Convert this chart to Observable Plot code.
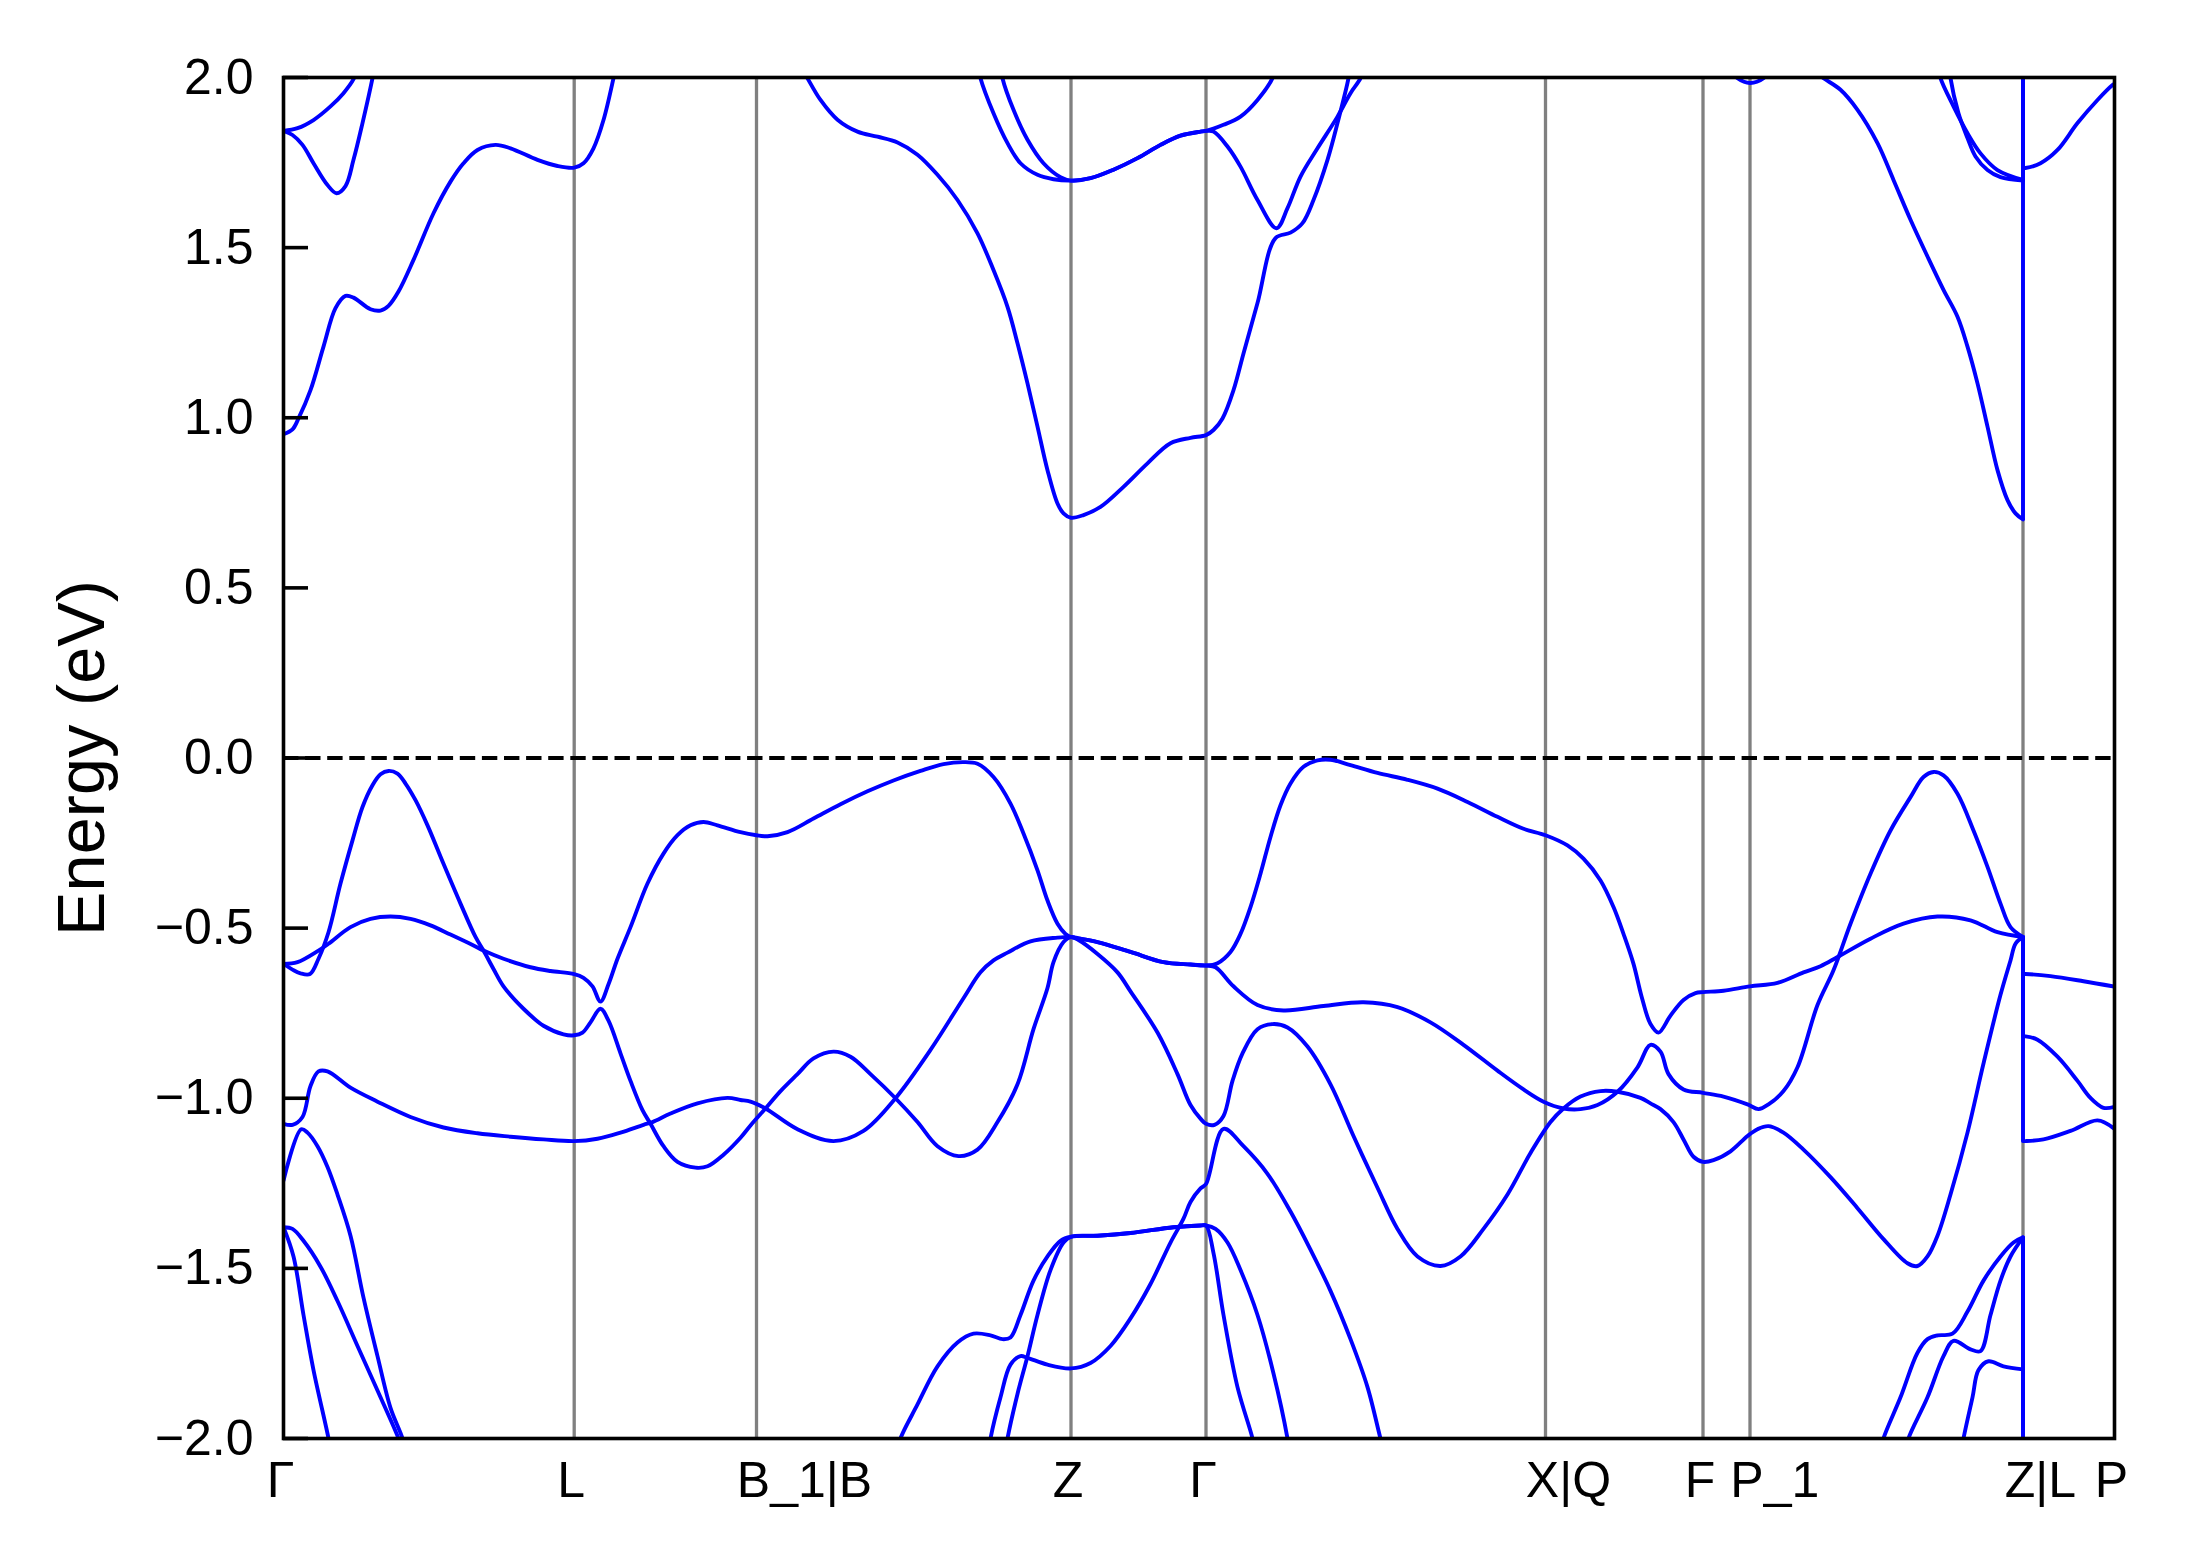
<!DOCTYPE html>
<html>
<head>
<meta charset="utf-8">
<style>
  html, body { margin: 0; padding: 0; background: #ffffff; }
  #chart svg { display: block; }
</style>
<script src="https://cdn.jsdelivr.net/npm/d3@7"></script>
<script src="https://cdn.jsdelivr.net/npm/@observablehq/plot@0.6"></script>
</head>
<body>
<div id="chart"></div>
<script>
// ---- High-symmetry path (k-path distance, arbitrary units) ----
const kLabels = ["Γ", "L", "B_1|B", "Z", "Γ", "X|Q", "F", "P_1", "Z|L", "P"];
const kTicks  = [0, 2.907, 4.73, 7.875, 9.225, 12.62, 14.195, 14.665, 17.395, 18.31];
const yTicks  = [-2, -1.5, -1, -0.5, 0, 0.5, 1, 1.5, 2];
const fermiLevel = [0];

// ---- Bands: [k, E (eV)]; repeated k = jump at a path discontinuity ----
const condLowA = [[0,0.952],[0.09,0.966],[0.15,0.998],[0.27,1.081],[0.40,1.209],[0.52,1.322],[0.62,1.358],[0.70,1.353],[0.87,1.319],[0.97,1.315],[1.05,1.329],[1.15,1.371],[1.30,1.464],[1.50,1.601],[1.67,1.694],[1.80,1.748],[1.94,1.787],[2.12,1.802],[2.27,1.792],[2.54,1.758],[2.74,1.740],[2.907,1.735],[3.00,1.748],[3.10,1.792],[3.20,1.875],[3.30,1.998],[3.33,2.04]];
const condLowB = [[5.18,2.03],[5.24,1.998],[5.37,1.934],[5.54,1.876],[5.74,1.841],[5.94,1.826],[6.14,1.809],[6.34,1.773],[6.54,1.714],[6.74,1.640],[6.94,1.542],[7.10,1.434],[7.24,1.326],[7.34,1.219],[7.44,1.101],[7.54,0.974],[7.64,0.846],[7.74,0.748],[7.80,0.719],[7.875,0.706],[8.00,0.714],[8.17,0.738],[8.40,0.797],[8.64,0.866],[8.87,0.925],[9.07,0.941],[9.225,0.949],[9.30,0.964],[9.39,0.998],[9.50,1.081],[9.60,1.189],[9.74,1.337],[9.92,1.528],[10.07,1.544],[10.19,1.572],[10.30,1.640],[10.44,1.758],[10.54,1.866],[10.65,1.998],[10.67,2.04]];
const condLowC = [[15.30,2.02],[15.40,1.998],[15.57,1.964],[15.74,1.905],[15.94,1.807],[16.10,1.699],[16.27,1.582],[16.44,1.474],[16.60,1.376],[16.74,1.297],[16.84,1.209],[16.94,1.101],[17.04,0.974],[17.14,0.846],[17.24,0.758],[17.32,0.719],[17.395,0.701],[17.395,1.734],[17.42,1.734],[17.57,1.748],[17.74,1.787],[17.94,1.866],[18.14,1.934],[18.29,1.978],[18.31,1.982]];
const condGammaUp = [[0,1.843],[0.14,1.851],[0.30,1.875],[0.47,1.915],[0.60,1.954],[0.70,1.995],[0.73,2.02]];
const condGammaDip = [[0,1.843],[0.09,1.831],[0.19,1.802],[0.30,1.748],[0.44,1.684],[0.53,1.660],[0.62,1.681],[0.70,1.758],[0.79,1.866],[0.89,1.998],[0.91,2.03]];
const condZOuter = [[6.95,2.03],[6.97,1.998],[7.10,1.895],[7.24,1.807],[7.37,1.748],[7.54,1.714],[7.70,1.701],[7.875,1.697],[8.07,1.704],[8.30,1.729],[8.54,1.763],[8.77,1.802],[8.97,1.829],[9.17,1.841],[9.225,1.843],[9.30,1.841],[9.44,1.797],[9.57,1.738],[9.74,1.640],[9.93,1.557],[10.04,1.616],[10.17,1.709],[10.34,1.792],[10.54,1.885],[10.67,1.954],[10.77,1.998],[10.80,2.03]];
const condZInner = [[7.17,2.04],[7.19,1.998],[7.30,1.905],[7.44,1.817],[7.60,1.748],[7.77,1.707],[7.875,1.697],[8.07,1.704],[8.30,1.729],[8.54,1.763],[8.77,1.802],[8.97,1.829],[9.17,1.841],[9.225,1.843],[9.40,1.861],[9.57,1.885],[9.74,1.934],[9.89,1.998],[9.92,2.03]];
const condP1Blip = [[14.45,2.03],[14.54,1.998],[14.665,1.984],[14.80,1.998],[14.88,2.03]];
const condZL1 = [[16.55,2.03],[16.57,1.998],[16.70,1.915],[16.84,1.836],[16.97,1.777],[17.14,1.728],[17.395,1.699],[17.395,2.05]];
const condZL2 = [[16.66,2.03],[16.67,1.998],[16.75,1.895],[16.84,1.822],[16.92,1.768],[17.04,1.728],[17.17,1.707],[17.395,1.697],[17.395,2.05]];

const valA = [[0,-0.605],[0.09,-0.622],[0.17,-0.633],[0.265,-0.635],[0.35,-0.59],[0.45,-0.512],[0.57,-0.369],[0.69,-0.242],[0.79,-0.144],[0.89,-0.080],[0.97,-0.048],[1.05,-0.038],[1.14,-0.046],[1.22,-0.075],[1.32,-0.124],[1.44,-0.198],[1.60,-0.311],[1.77,-0.428],[1.92,-0.526],[2.00,-0.566],[2.10,-0.620],[2.20,-0.671],[2.40,-0.737],[2.60,-0.787],[2.80,-0.812],[2.907,-0.815],[2.99,-0.807],[3.07,-0.777],[3.17,-0.737],[3.25,-0.772],[3.37,-0.868],[3.47,-0.949],[3.59,-1.035],[3.67,-1.075],[3.80,-1.141],[3.94,-1.187],[4.12,-1.204],[4.24,-1.200],[4.40,-1.166],[4.57,-1.116],[4.67,-1.08],[4.82,-1.03],[4.97,-0.979],[5.14,-0.929],[5.30,-0.883],[5.50,-0.863],[5.67,-0.878],[5.87,-0.929],[6.12,-1.0],[6.34,-1.07],[6.54,-1.141],[6.75,-1.17],[6.94,-1.151],[7.14,-1.07],[7.34,-0.959],[7.50,-0.797],[7.64,-0.676],[7.70,-0.60],[7.80,-0.541],[7.875,-0.526],[7.95,-0.535],[8.14,-0.576],[8.34,-0.63],[8.47,-0.686],[8.74,-0.807],[8.94,-0.929],[9.07,-1.02],[9.17,-1.06],[9.225,-1.075],[9.31,-1.078],[9.40,-1.052],[9.49,-0.949],[9.59,-0.868],[9.74,-0.797],[9.89,-0.782],[10.04,-0.792],[10.24,-0.848],[10.47,-0.959],[10.70,-1.111],[10.94,-1.263],[11.14,-1.384],[11.34,-1.465],[11.57,-1.493],[11.77,-1.465],[12.00,-1.384],[12.24,-1.283],[12.47,-1.161],[12.67,-1.07],[12.80,-1.03],[12.97,-0.995],[13.17,-0.979],[13.34,-0.981],[13.57,-0.999],[13.67,-1.015],[13.77,-1.032],[13.90,-1.07],[14.00,-1.121],[14.10,-1.172],[14.195,-1.187],[14.30,-1.182],[14.47,-1.156],[14.64,-1.111],[14.74,-1.091],[14.85,-1.082],[15.00,-1.101],[15.20,-1.151],[15.47,-1.232],[15.74,-1.323],[16.00,-1.414],[16.24,-1.485],[16.34,-1.493],[16.44,-1.465],[16.54,-1.404],[16.67,-1.283],[16.84,-1.101],[17.00,-0.898],[17.17,-0.696],[17.27,-0.595],[17.32,-0.546],[17.395,-0.526],[17.395,-1.126],[17.42,-1.126],[17.60,-1.121],[17.87,-1.096],[18.14,-1.065],[18.31,-1.09]];
const valB = [[0,-0.605],[0.14,-0.600],[0.35,-0.566],[0.45,-0.546],[0.67,-0.497],[0.87,-0.473],[1.07,-0.466],[1.27,-0.473],[1.47,-0.492],[1.67,-0.519],[1.90,-0.551],[2.00,-0.566],[2.20,-0.590],[2.47,-0.615],[2.67,-0.626],[2.907,-0.635],[3.00,-0.646],[3.09,-0.671],[3.17,-0.716],[3.25,-0.665],[3.34,-0.59],[3.47,-0.497],[3.64,-0.369],[3.80,-0.281],[3.94,-0.227],[4.07,-0.198],[4.20,-0.188],[4.34,-0.198],[4.57,-0.218],[4.73,-0.227],[4.84,-0.230],[5.04,-0.218],[5.30,-0.178],[5.57,-0.136],[5.84,-0.098],[6.10,-0.066],[6.37,-0.038],[6.60,-0.018],[6.80,-0.012],[6.94,-0.017],[7.10,-0.056],[7.27,-0.134],[7.40,-0.222],[7.54,-0.330],[7.64,-0.419],[7.74,-0.487],[7.82,-0.517],[7.875,-0.526],[7.95,-0.530],[8.14,-0.541],[8.47,-0.570],[8.80,-0.600],[9.07,-0.607],[9.225,-0.610],[9.34,-0.603],[9.47,-0.570],[9.57,-0.517],[9.67,-0.438],[9.77,-0.340],[9.87,-0.232],[9.97,-0.139],[10.07,-0.075],[10.20,-0.026],[10.34,-0.007],[10.47,-0.005],[10.67,-0.021],[10.94,-0.044],[11.24,-0.064],[11.54,-0.090],[11.84,-0.129],[12.14,-0.173],[12.40,-0.208],[12.62,-0.227],[12.84,-0.257],[13.00,-0.296],[13.17,-0.360],[13.30,-0.438],[13.40,-0.517],[13.50,-0.605],[13.58,-0.70],[13.67,-0.782],[13.75,-0.807],[13.87,-0.757],[14.00,-0.711],[14.12,-0.691],[14.195,-0.688],[14.40,-0.684],[14.665,-0.671],[14.94,-0.661],[15.20,-0.630],[15.37,-0.612],[15.54,-0.585],[15.87,-0.531],[16.20,-0.487],[16.54,-0.466],[16.87,-0.477],[17.14,-0.512],[17.395,-0.526],[17.395,-0.818],[17.42,-0.818],[17.54,-0.828],[17.74,-0.878],[17.94,-0.949],[18.07,-0.999],[18.20,-1.028],[18.31,-1.025]];
const valC = [[0,-1.075],[0.09,-1.078],[0.19,-1.055],[0.27,-0.964],[0.35,-0.921],[0.44,-0.921],[0.67,-0.969],[0.94,-1.01],[1.27,-1.055],[1.60,-1.086],[1.94,-1.103],[2.27,-1.113],[2.60,-1.121],[2.907,-1.126],[3.14,-1.119],[3.37,-1.101],[3.60,-1.078],[3.69,-1.070],[3.87,-1.045],[4.14,-1.015],[4.44,-0.999],[4.57,-1.005],[4.67,-1.01],[4.82,-1.03],[5.14,-1.091],[5.50,-1.126],[5.80,-1.096],[6.12,-1.0],[6.47,-0.858],[6.80,-0.706],[6.97,-0.63],[7.10,-0.595],[7.24,-0.572],[7.47,-0.539],[7.74,-0.528],[7.875,-0.526],[7.95,-0.530],[8.14,-0.541],[8.47,-0.570],[8.80,-0.600],[9.07,-0.607],[9.225,-0.610],[9.32,-0.615],[9.50,-0.671],[9.74,-0.726],[10.00,-0.742],[10.40,-0.729],[10.80,-0.718],[11.14,-0.732],[11.47,-0.777],[11.80,-0.843],[12.14,-0.919],[12.40,-0.974],[12.60,-1.01],[12.80,-1.03],[12.97,-1.032],[13.14,-1.02],[13.34,-0.981],[13.54,-0.909],[13.67,-0.843],[13.77,-0.863],[13.85,-0.929],[14.00,-0.974],[14.195,-0.984],[14.40,-0.995],[14.64,-1.018],[14.75,-1.032],[14.85,-1.018],[15.00,-0.979],[15.14,-0.909],[15.34,-0.726],[15.50,-0.624],[15.67,-0.487],[15.87,-0.340],[16.07,-0.213],[16.27,-0.115],[16.40,-0.056],[16.50,-0.041],[16.60,-0.051],[16.74,-0.105],[16.90,-0.213],[17.04,-0.320],[17.17,-0.428],[17.27,-0.497],[17.395,-0.526],[17.395,-0.635],[17.42,-0.635],[17.67,-0.641],[18.00,-0.656],[18.31,-0.672]];
const valD = [[0,-1.242],[0.177,-1.091],[0.24,-1.101],[0.34,-1.141],[0.44,-1.202],[0.54,-1.283],[0.67,-1.404],[0.80,-1.586],[0.94,-1.758],[1.07,-1.91],[1.19,-2.0],[1.21,-2.03]];
const valGamma1 = [[0,-1.379],[0.09,-1.384],[0.20,-1.419],[0.37,-1.495],[0.54,-1.596],[0.74,-1.728],[0.94,-1.859],[1.15,-2.0],[1.17,-2.02]];
const valGamma2 = [[0,-1.379],[0.10,-1.465],[0.20,-1.637],[0.30,-1.799],[0.45,-2.0],[0.46,-2.02]];
const valZ1 = [[6.16,-2.02],[6.17,-2.0],[6.34,-1.9],[6.54,-1.788],[6.74,-1.718],[6.90,-1.692],[7.07,-1.697],[7.19,-1.708],[7.27,-1.703],[7.37,-1.637],[7.50,-1.536],[7.64,-1.465],[7.77,-1.419],[7.875,-1.407],[8.14,-1.404],[8.47,-1.396],[8.90,-1.379],[9.17,-1.374],[9.225,-1.374],[9.32,-1.384],[9.44,-1.424],[9.57,-1.505],[9.74,-1.637],[9.90,-1.809],[10.04,-2.0],[10.05,-2.02]];
const valZ2 = [[7.06,-2.02],[7.07,-2.0],[7.17,-1.879],[7.27,-1.783],[7.37,-1.758],[7.44,-1.763],[7.64,-1.783],[7.875,-1.794],[8.07,-1.778],[8.27,-1.728],[8.47,-1.647],[8.67,-1.546],[8.87,-1.424],[9.00,-1.354],[9.07,-1.305],[9.17,-1.265],[9.225,-1.252],[9.40,-1.09],[9.60,-1.141],[9.84,-1.222],[10.07,-1.333],[10.27,-1.445],[10.47,-1.566],[10.67,-1.708],[10.84,-1.849],[10.97,-2.0],[10.99,-2.02]];
const valZ3 = [[7.23,-2.02],[7.24,-2.0],[7.34,-1.869],[7.44,-1.758],[7.54,-1.637],[7.67,-1.505],[7.80,-1.424],[7.875,-1.407],[8.14,-1.404],[8.47,-1.396],[8.90,-1.379],[9.17,-1.374],[9.225,-1.374],[9.30,-1.455],[9.40,-1.637],[9.54,-1.849],[9.69,-2.0],[9.70,-2.02]];
const valZL1 = [[15.99,-2.02],[16.00,-2.0],[16.17,-1.879],[16.34,-1.748],[16.44,-1.708],[16.54,-1.697],[16.69,-1.692],[16.84,-1.627],[17.00,-1.536],[17.17,-1.465],[17.30,-1.424],[17.395,-1.409],[17.395,-2.05]];
const valZL2 = [[16.24,-2.02],[16.25,-2.0],[16.44,-1.879],[16.60,-1.758],[16.70,-1.713],[16.87,-1.738],[16.97,-1.743],[17.07,-1.637],[17.17,-1.536],[17.27,-1.465],[17.395,-1.409],[17.395,-2.05]];
const valZL3 = [[16.79,-2.02],[16.80,-2.0],[16.89,-1.879],[16.95,-1.799],[17.05,-1.773],[17.20,-1.788],[17.395,-1.797],[17.395,-2.05]];

const allBands = [condLowA, condLowB, condLowC, condGammaUp, condGammaDip, condZOuter, condZInner,
  condP1Blip, condZL1, condZL2, valA, valB, valC, valD, valGamma1, valGamma2,
  valZ1, valZ2, valZ3, valZL1, valZL2, valZL3];

// Split each band into smooth pieces and vertical connectors at path discontinuities
const pieces = [], jumps = [];
allBands.forEach((pts, b) => {
  let seg = 0;
  pts.forEach(([k, E], i) => {
    if (i > 0 && k === pts[i - 1][0]) {
      jumps.push({k, e1: pts[i - 1][1], e2: E});
      seg++;
    }
    pieces.push({k, E, id: b + "-" + seg});
  });
});

const FONT = "'Liberation Sans', Arial, Helvetica, sans-serif";
const FS = 50;
const W = 2189, H = 1567, ML = 283, MR = 75, MT = 77, MB = 129;

const ctx = document.createElement("canvas").getContext("2d");
ctx.font = `${FS}px 'Liberation Sans'`;

const kLabelMarks = kLabels.map((lab, i) => Plot.text([lab], {
  x: () => kTicks[i], text: d => d, frameAnchor: "bottom",
  textAnchor: "start", lineAnchor: "top", dy: 23,
  dx: -ctx.measureText(lab[0]).width / 2 - 3, fontSize: FS, fill: "black"
}));

const chart = Plot.plot({
  width: W, height: H,
  marginLeft: ML, marginRight: MR, marginTop: MT, marginBottom: MB,
  style: {fontFamily: FONT, background: "white", color: "black"},
  x: {domain: [0, kTicks[kTicks.length - 1]], axis: null},
  y: {domain: [-2, 2], axis: null},
  marks: [
    Plot.ruleX(kTicks.slice(1, -1), {stroke: "#808080", strokeWidth: 3.3}),
    Plot.ruleY(fermiLevel, {stroke: "black", strokeWidth: 4, strokeDasharray: "15.4,6.7"}),
    Plot.line(pieces, {x: "k", y: "E", z: "id", stroke: "#0000ff", strokeWidth: 3.9,
      curve: "catmull-rom", clip: true}),
    Plot.link(jumps, {x1: "k", x2: "k", y1: "e1", y2: "e2", stroke: "#0000ff", strokeWidth: 3.9, clip: true}),
    Plot.frame({stroke: "black", strokeWidth: 3.6}),
    Plot.tickY(yTicks, {y: d => d, stroke: "black", strokeWidth: 3.6, insetRight: (W - ML - MR) - 25}),
    Plot.axisY(yTicks, {tickSize: 0, tickPadding: 30, fontSize: FS, tickFormat: d3.format(".1f"), label: null}),
    ...kLabelMarks,
    Plot.text(["Energy (eV)"], {frameAnchor: "left", dx: -201, rotate: -90, fontSize: 66.7,
      textAnchor: "middle", lineAnchor: "middle", fill: "black"})
  ]
});
document.getElementById("chart").appendChild(chart);
</script>
</body>
</html>
